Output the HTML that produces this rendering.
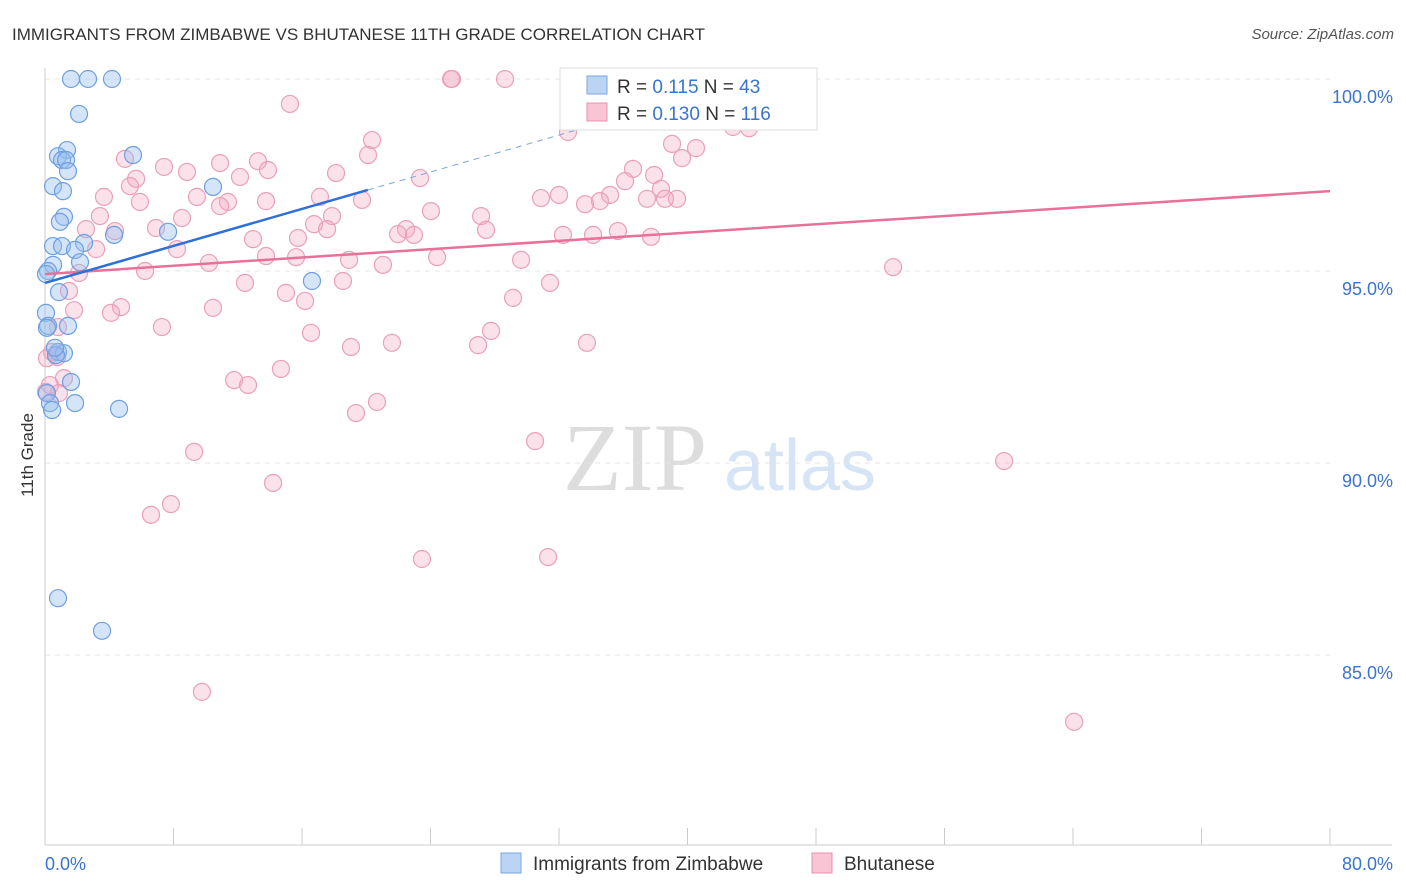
<!DOCTYPE html>
<html><head><meta charset="utf-8"><style>
body{margin:0;background:#fff;font-family:"Liberation Sans",sans-serif}
svg{display:block}
</style></head><body>
<svg id="chart" width="1406" height="892">
<text x="12" y="40" font-size="17" fill="#333">IMMIGRANTS FROM ZIMBABWE VS BHUTANESE 11TH GRADE CORRELATION CHART</text>
<text x="1394" y="39" font-size="15" fill="#555" text-anchor="end" font-style="italic">Source: ZipAtlas.com</text>
<text x="33" y="455" font-size="17" fill="#333" text-anchor="middle" transform="rotate(-90 33 455)">11th Grade</text>
<g>
<text x="635" y="490" font-size="96" fill="#ddd" text-anchor="middle" font-family="Liberation Serif,serif">ZIP</text>
<text x="800" y="490" font-size="72" fill="#d6e4f5" text-anchor="middle">atlas</text>
</g>
<g id="grid"></g><g id="axes"></g><g id="pts"></g><g id="lines"></g>
<g>
<rect x="560" y="68" width="257" height="62" fill="#fff" stroke="#ddd"/>
<rect x="587" y="76" width="20" height="18" fill="#bcd4f4" stroke="#7aa6e0"/>
<text x="617" y="93" font-size="19" fill="#333">R = <tspan fill="#3a74d0">0.115</tspan>   N = <tspan fill="#3a74d0">43</tspan></text>
<rect x="587" y="103" width="20" height="18" fill="#f9c4d4" stroke="#e890b0"/>
<text x="617" y="120" font-size="19" fill="#333">R = <tspan fill="#3a74d0">0.130</tspan>   N = <tspan fill="#3a74d0">116</tspan></text>
</g>
<g>
<rect x="501" y="853" width="20" height="20" fill="#bcd4f4" stroke="#7aa6e0"/>
<text x="533" y="870" font-size="19" fill="#333">Immigrants from Zimbabwe</text>
<rect x="812" y="853" width="20" height="20" fill="#f9c4d4" stroke="#e890b0"/>
<text x="844" y="870" font-size="19" fill="#333">Bhutanese</text>
</g>
</svg>
<script>
const xTicks=[0,8,16,24,32,40,48,56,64,72,80];
const yTicks=[100,95,90,85];
const yTickLabels=["100.0%","95.0%","90.0%","85.0%"];
const xLabels=["0.0%","80.0%"];
const blueX=[1.62,2.68,4.17,2.12,1.37,0.81,1.06,1.31,5.48,1.43,0.50,1.12,10.46,1.18,0.93,4.30,7.66,0.50,1.06,2.43,1.87,0.50,2.18,0.19,0.06,16.62,0.87,0.06,0.19,1.43,0.81,1.18,0.68,1.62,0.12,1.87,0.31,0.44,4.61,0.81,3.55,0.62,0.12];
const blueY=[100,100,100,99.09,98.15,97.99,97.89,97.89,98.02,97.60,97.21,97.08,97.19,96.41,96.28,95.94,96.02,95.65,95.65,95.73,95.55,95.16,95.23,95.0,94.92,94.74,94.45,93.91,93.57,93.57,92.89,92.86,92.81,92.11,91.82,91.56,91.56,91.38,91.41,86.48,85.63,93.0,93.52];
const pinkX=[25.34,28.64,25.28,44.95,15.25,20.36,32.56,42.83,43.83,39.04,40.53,20.11,4.98,7.41,10.90,13.26,39.66,13.88,8.84,18.12,12.14,5.67,5.29,36.61,37.92,36.11,38.35,23.35,3.67,9.46,17.12,19.74,5.91,11.39,13.76,10.90,30.88,32.00,35.18,34.55,33.62,37.48,39.35,38.60,24.03,27.15,3.42,8.53,17.87,16.75,17.56,2.55,4.36,6.91,22.48,21.98,22.97,27.46,32.25,34.12,35.67,37.73,12.95,15.75,3.18,8.22,13.76,10.21,15.63,18.93,21.04,24.41,29.64,6.23,2.12,52.80,12.45,18.55,31.44,1.49,15.00,16.19,29.14,4.73,10.46,1.81,4.11,7.28,16.56,27.77,0.81,21.60,19.05,26.96,33.74,0.44,0.75,14.69,1.18,11.77,12.64,0.31,0.06,20.67,19.36,30.51,9.28,59.71,14.20,7.84,6.60,23.47,31.32,9.77,64.07,0.87,0.12];
const pinkY=[100,100,100,100,99.35,98.41,98.62,98.75,98.72,98.31,98.20,98.02,97.92,97.71,97.81,97.86,97.94,97.63,97.58,97.55,97.45,97.40,97.21,97.66,97.50,97.34,97.14,97.42,96.93,96.93,96.93,96.85,96.80,96.80,96.82,96.69,96.90,96.98,96.98,96.82,96.74,96.88,96.88,96.88,96.56,96.43,96.43,96.38,96.43,96.22,96.09,96.09,96.04,96.12,96.09,95.96,95.94,96.07,95.94,95.94,96.04,95.89,95.83,95.86,95.57,95.57,95.39,95.21,95.36,95.29,95.16,95.36,95.29,95.0,94.95,95.10,94.69,94.74,94.69,94.48,94.43,94.22,94.30,94.06,94.04,93.98,93.91,93.54,93.39,93.44,93.54,93.13,93.02,93.07,93.13,92.89,92.76,92.45,92.21,92.16,92.03,92.03,91.85,91.59,91.30,90.57,90.29,90.05,89.48,88.93,88.65,87.50,87.55,84.04,83.26,91.82,92.73];
const blueTrend=[[0,94.69],[20.1,97.11],[35,98.9]];
const pinkTrend=[[0,94.92],[80,97.08]];
const X=v=>45+v/80*1285, Y=v=>79+(100-v)*38.4;
const NS="http://www.w3.org/2000/svg";
function mk(tag,attrs,parent){const e=document.createElementNS(NS,tag);for(const k in attrs)e.setAttribute(k,attrs[k]);document.getElementById(parent).appendChild(e);return e;}
yTicks.forEach((t,i)=>{
 const l=mk('line',{x1:45,x2:1330,y1:Y(t),y2:Y(t),stroke:'#e4e4e4','stroke-dasharray':'5,5'},'grid');
 
 
 const tx=mk('text',{x:1393,y:Y(t)+24,'font-size':18,fill:'#3a74d0','text-anchor':'end'},'axes');
 tx.textContent=yTickLabels[i];
 
 
});
let ax=mk('line',{x1:45,x2:1392,y1:845,y2:845,stroke:'#ccc'},'axes');


let ay=mk('line',{x1:45,x2:45,y1:68,y2:845,stroke:'#ccc'},'axes');


xTicks.forEach(t=>{const l=mk('line',{x1:X(t),x2:X(t),y1:828,y2:845,stroke:'#ccc'},'axes');
 
 });
[[0,'start',45],[80,'end',1393]].forEach((a,i)=>{const tx=mk('text',{x:a[2],y:870,'font-size':18,fill:'#3a74d0','text-anchor':a[1]},'axes');tx.textContent=xLabels[i];
 
 });
pinkX.forEach((v,i)=>{const c=mk('circle',{cx:X(v),cy:Y(pinkY[i]),r:8.5,fill:'rgba(244,170,195,0.35)',stroke:'#eaa0bb','stroke-width':1.2},'pts');
 
 });
blueX.forEach((v,i)=>{const c=mk('circle',{cx:X(v),cy:Y(blueY[i]),r:8.5,fill:'rgba(150,190,240,0.4)',stroke:'#6f9fe0','stroke-width':1.2},'pts');
 
 });
let pl=mk('line',{x1:X(pinkTrend[0][0]),y1:Y(pinkTrend[0][1]),x2:X(pinkTrend[1][0]),y2:Y(pinkTrend[1][1]),stroke:'#e8709a','stroke-width':2.5},'lines');


let bl=mk('line',{x1:X(blueTrend[0][0]),y1:Y(blueTrend[0][1]),x2:X(blueTrend[1][0]),y2:Y(blueTrend[1][1]),stroke:'#2f6fd6','stroke-width':2.5},'lines');


let bd=mk('line',{x1:X(blueTrend[1][0]),y1:Y(blueTrend[1][1]),x2:X(blueTrend[2][0]),y2:Y(blueTrend[2][1]),stroke:'#7aa6e0','stroke-width':1,'stroke-dasharray':'6,5'},'lines');


</script>
</body></html>
